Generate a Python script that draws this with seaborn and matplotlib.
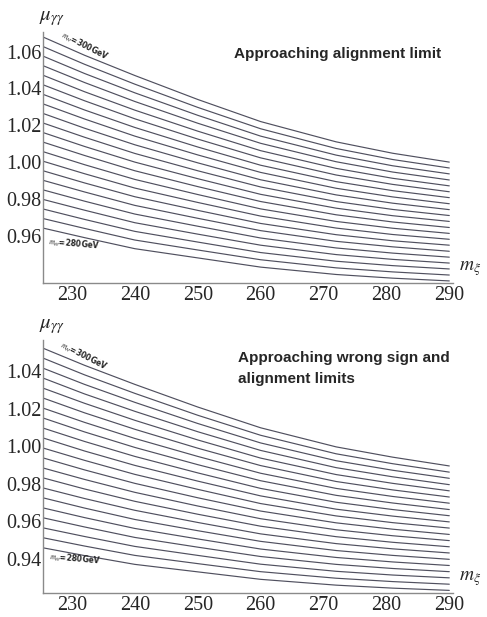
import numpy as np
import pandas as pd
import matplotlib
matplotlib.use("Agg")
import matplotlib.pyplot as plt
import seaborn as sns
from matplotlib.ticker import MultipleLocator, FormatStrFormatter

# m_xi sample points shared by every curve
m_xi = [225.0, 232.0, 240.0, 250.0, 260.0, 272.0, 281.0, 290.0]
m_H = list(range(280, 301))

# top panel: approaching alignment limit (rows = m_H 280 ... 300)
mu_top = [
    [0.9645, 0.9590, 0.9530, 0.9480, 0.9430, 0.9390, 0.9370, 0.9355],
    [0.9697, 0.9640, 0.9577, 0.9523, 0.9470, 0.9426, 0.9404, 0.9387],
    [0.9749, 0.9689, 0.9624, 0.9566, 0.9509, 0.9462, 0.9438, 0.9420],
    [0.9801, 0.9739, 0.9671, 0.9609, 0.9549, 0.9498, 0.9472, 0.9452],
    [0.9853, 0.9788, 0.9718, 0.9652, 0.9588, 0.9534, 0.9506, 0.9484],
    [0.9905, 0.9838, 0.9765, 0.9695, 0.9628, 0.9570, 0.9540, 0.9516],
    [0.9957, 0.9887, 0.9812, 0.9738, 0.9667, 0.9606, 0.9573, 0.9549],
    [1.0009, 0.9937, 0.9859, 0.9781, 0.9707, 0.9642, 0.9607, 0.9581],
    [1.0061, 0.9986, 0.9906, 0.9824, 0.9746, 0.9678, 0.9641, 0.9613],
    [1.0113, 1.0036, 0.9953, 0.9867, 0.9786, 0.9714, 0.9675, 0.9645],
    [1.0165, 1.0085, 1.0000, 0.9910, 0.9825, 0.9750, 0.9709, 0.9678],
    [1.0217, 1.0135, 1.0047, 0.9953, 0.9865, 0.9786, 0.9743, 0.9710],
    [1.0269, 1.0184, 1.0094, 0.9996, 0.9904, 0.9822, 0.9777, 0.9742],
    [1.0321, 1.0234, 1.0141, 1.0039, 0.9944, 0.9858, 0.9811, 0.9774],
    [1.0373, 1.0283, 1.0188, 1.0082, 0.9983, 0.9894, 0.9845, 0.9807],
    [1.0425, 1.0333, 1.0235, 1.0125, 1.0023, 0.9930, 0.9879, 0.9839],
    [1.0477, 1.0382, 1.0282, 1.0168, 1.0062, 0.9966, 0.9912, 0.9871],
    [1.0529, 1.0432, 1.0329, 1.0211, 1.0102, 1.0002, 0.9946, 0.9903],
    [1.0581, 1.0481, 1.0376, 1.0254, 1.0141, 1.0038, 0.9980, 0.9936],
    [1.0633, 1.0531, 1.0423, 1.0297, 1.0181, 1.0074, 1.0014, 0.9968],
    [1.0685, 1.0580, 1.0470, 1.0340, 1.0220, 1.0110, 1.0048, 1.0000],
]

# bottom panel: approaching wrong sign and alignment limits
mu_bottom = [
    [0.9460, 0.9416, 0.9369, 0.9329, 0.9289, 0.9258, 0.9242, 0.9230],
    [0.9514, 0.9467, 0.9417, 0.9373, 0.9330, 0.9295, 0.9277, 0.9263],
    [0.9567, 0.9518, 0.9465, 0.9417, 0.9370, 0.9332, 0.9312, 0.9297],
    [0.9621, 0.9569, 0.9513, 0.9461, 0.9411, 0.9369, 0.9347, 0.9330],
    [0.9674, 0.9619, 0.9561, 0.9505, 0.9451, 0.9406, 0.9382, 0.9363],
    [0.9728, 0.9670, 0.9609, 0.9549, 0.9492, 0.9443, 0.9417, 0.9396],
    [0.9781, 0.9721, 0.9658, 0.9593, 0.9532, 0.9480, 0.9452, 0.9430],
    [0.9835, 0.9772, 0.9706, 0.9637, 0.9573, 0.9517, 0.9487, 0.9463],
    [0.9888, 0.9823, 0.9754, 0.9681, 0.9613, 0.9554, 0.9522, 0.9496],
    [0.9942, 0.9874, 0.9802, 0.9725, 0.9654, 0.9591, 0.9557, 0.9529],
    [0.9995, 0.9925, 0.9850, 0.9770, 0.9694, 0.9628, 0.9592, 0.9563],
    [1.0049, 0.9975, 0.9898, 0.9814, 0.9735, 0.9664, 0.9627, 0.9596],
    [1.0102, 1.0026, 0.9946, 0.9858, 0.9775, 0.9701, 0.9662, 0.9629],
    [1.0156, 1.0077, 0.9994, 0.9902, 0.9816, 0.9738, 0.9697, 0.9662],
    [1.0209, 1.0128, 1.0042, 0.9946, 0.9856, 0.9775, 0.9732, 0.9696],
    [1.0263, 1.0179, 1.0091, 0.9990, 0.9897, 0.9812, 0.9767, 0.9729],
    [1.0316, 1.0230, 1.0139, 1.0034, 0.9937, 0.9849, 0.9802, 0.9762],
    [1.0370, 1.0280, 1.0187, 1.0078, 0.9978, 0.9886, 0.9837, 0.9795],
    [1.0423, 1.0331, 1.0235, 1.0122, 1.0018, 0.9923, 0.9872, 0.9829],
    [1.0477, 1.0382, 1.0283, 1.0166, 1.0059, 0.9960, 0.9907, 0.9862],
    [1.0530, 1.0433, 1.0331, 1.0210, 1.0099, 0.9997, 0.9942, 0.9895],
]

x_ticks = [230, 240, 250, 260, 270, 280, 290]
y_ticks_top = [0.96, 0.98, 1.00, 1.02, 1.04, 1.06]
y_ticks_bottom = [0.94, 0.96, 0.98, 1.00, 1.02, 1.04]


def to_frame(rows):
    recs = []
    for mh, vals in zip(m_H, rows):
        for x, v in zip(m_xi, vals):
            recs.append({"m_xi": x, "mu": v, "mH": mh})
    return pd.DataFrame(recs)


def style_axis(ax, ylim, yticks):
    ax.set_xlim(225.4, 290.6)
    ax.set_ylim(*ylim)
    for s in ["top", "right"]:
        ax.spines[s].set_visible(False)
    for s in ["left", "bottom"]:
        ax.spines[s].set_color("#8a8a8a")
        ax.spines[s].set_linewidth(1.0)
    ax.set_xticks(x_ticks)
    ax.set_yticks(yticks)
    ax.xaxis.set_minor_locator(MultipleLocator(2))
    ax.yaxis.set_minor_locator(MultipleLocator(0.004))
    ax.yaxis.set_major_formatter(FormatStrFormatter("%.2f"))
    ax.tick_params(which="both", direction="in", color="#8a8a8a")
    ax.tick_params(which="major", length=5, width=0.9, labelsize=14.5)
    ax.tick_params(axis="x", which="major", pad=2.5)
    ax.tick_params(axis="y", which="major", pad=1)
    ax.tick_params(which="minor", length=2.5, width=0.7)
    for lab in ax.get_xticklabels() + ax.get_yticklabels():
        lab.set_fontfamily("Liberation Serif")
    ax.set_xlabel("")
    ax.set_ylabel("")
    ax.text(-0.01, 1.015, r"$\mu_{\gamma\gamma}$", transform=ax.transAxes,
            fontsize=15, family="Liberation Serif", ha="left", va="bottom")
    ax.text(1.015, 0.02, r"$m_{\xi}$", transform=ax.transAxes,
            fontsize=14, family="Liberation Serif", ha="left", va="bottom")


sns.set_style("white")
plt.rcParams["mathtext.fontset"] = "stix"

fig = plt.figure(figsize=(4.87, 6.17), dpi=100)
ax1 = fig.add_axes([0.0883, 0.5420, 0.842, 0.4061])
ax2 = fig.add_axes([0.0883, 0.0389, 0.842, 0.4100])

line_color = "#50505f"

df1 = to_frame(mu_top)
sns.lineplot(data=df1, x="m_xi", y="mu", units="mH", estimator=None,
             color=line_color, linewidth=0.85, ax=ax1)
style_axis(ax1, (0.9346, 1.0706), y_ticks_top)
ax1.text(0.465, 0.895, "Approaching alignment limit", transform=ax1.transAxes,
         fontsize=11, fontweight="bold", family="Liberation Sans")
ax1.text(228.0, 1.0665, r"$m_H$=300GeV", fontsize=5.5, fontweight="bold",
         rotation=-27, rotation_mode="anchor", ha="left", va="bottom")
ax1.text(226.2, 0.9535, r"$m_H$=280GeV", fontsize=5.5, fontweight="bold",
         rotation=-5, rotation_mode="anchor", ha="left", va="bottom")

df2 = to_frame(mu_bottom)
sns.lineplot(data=df2, x="m_xi", y="mu", units="mH", estimator=None,
             color=line_color, linewidth=0.85, ax=ax2)
style_axis(ax2, (0.9216, 1.0568), y_ticks_bottom)
ax2.text(0.475, 0.83, "Approaching wrong sign and\nalignment limits",
         transform=ax2.transAxes, fontsize=11, fontweight="bold",
         family="Liberation Sans", linespacing=1.6)
ax2.text(227.8, 1.0515, r"$m_H$=300GeV", fontsize=5.5, fontweight="bold",
         rotation=-27, rotation_mode="anchor", ha="left", va="bottom")
ax2.text(226.4, 0.9375, r"$m_H$=280GeV", fontsize=5.5, fontweight="bold",
         rotation=-5, rotation_mode="anchor", ha="left", va="bottom")

fig.savefig("out.png", dpi=100)
